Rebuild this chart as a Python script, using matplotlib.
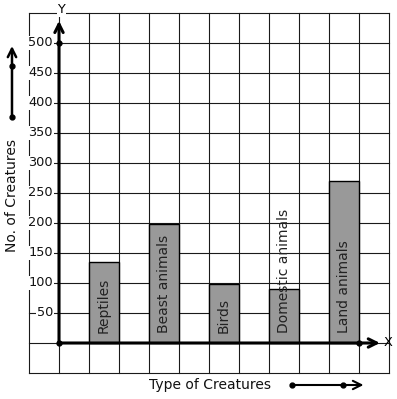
import matplotlib
matplotlib.use("Agg")
import matplotlib.pyplot as plt

categories = ["Reptiles", "Beast animals", "Birds", "Domestic animals", "Land animals"]
values = [135, 198, 98, 90, 270]
ytick_values = [50, 100, 150, 200, 250, 300, 350, 400, 450, 500]
ytick_labels = ["50", "100", "150", "200", "250", "300", "350", "400", "450", "500"]

W, H = 397, 399
fig = plt.figure(figsize=(W / 100, H / 100), dpi=100)
ax = fig.add_axes([0, 0, 1, 1])
# pixel mapping: x_px = 59 + 30*x ; y_px = 343 - 30*y/50
ax.set_xlim(-59 / 30, (W - 59) / 30)
ax.set_ylim((343 - H) * 50 / 30, 343 * 50 / 30)
ax.axis("off")

fs = 10
fs_tick = 9.3
# grid
for gx in range(-1, 12):
    ax.plot([gx, gx], [-50, 550], color="#1a1a1a", lw=0.8, zorder=1)
for gy in range(-50, 551, 50):
    ax.plot([-1, 11], [gy, gy], color="#1a1a1a", lw=0.8, zorder=1)

# bars
xs = [1.5 + 2 * i for i in range(len(categories))]
ax.bar(xs, values, width=1, color="#999999", edgecolor="black", lw=1, zorder=2)
for x, c in zip(xs, categories):
    ax.text(x, 16, c, rotation=90, ha="center", va="bottom", fontsize=fs,
            color="#222222", zorder=4)

# axes arrows
ax.annotate("", xy=(0, 537), xytext=(0, 0),
            arrowprops=dict(arrowstyle="->", lw=2.2, color="black", mutation_scale=15,
                            shrinkA=0, shrinkB=0), zorder=3)
ax.annotate("", xy=(10.7, 0), xytext=(0, 0),
            arrowprops=dict(arrowstyle="->", lw=2.2, color="black", mutation_scale=15,
                            shrinkA=0, shrinkB=0), zorder=3)
ax.plot([0, 0, 10], [0, 500, 0], "o", color="black", ms=3.5, zorder=5)

# tick labels
for v, lab in zip(ytick_values, ytick_labels):
    ax.text(-0.2, v, lab, ha="right", va="center", fontsize=fs_tick, color="#111111",
            bbox=dict(facecolor="white", edgecolor="none", pad=0.5), zorder=4)

ax.text(0.07, 555, "Y", ha="center", va="center", fontsize=fs_tick,
        bbox=dict(facecolor="white", edgecolor="none", pad=0.5), zorder=4)
ax.text(10.97, 0, "X", ha="center", va="center", fontsize=fs_tick, zorder=4)

# axis titles
ax.text(-1.567, 245, "No. of Creatures", rotation=90, ha="center", va="center",
        fontsize=fs, color="#111111")
ax.text(5.03, -70, "Type of Creatures", ha="center", va="center",
        fontsize=fs, color="#111111")

# decorative arrows
ax.annotate("", xy=(-1.567, 495), xytext=(-1.567, 376.7),
            arrowprops=dict(arrowstyle="->", lw=1.8, color="black", mutation_scale=15,
                            shrinkA=0, shrinkB=0))
ax.plot([-1.567, -1.567], [376.7, 461.7], "o", color="black", ms=3.5)
ax.annotate("", xy=(10.15, -70), xytext=(7.767, -70),
            arrowprops=dict(arrowstyle="->", lw=1.5, color="black", mutation_scale=15,
                            shrinkA=0, shrinkB=0))
ax.plot([7.767, 9.467], [-70, -70], "o", color="black", ms=3.5)

fig.savefig("out.png", dpi=100, facecolor="white")
